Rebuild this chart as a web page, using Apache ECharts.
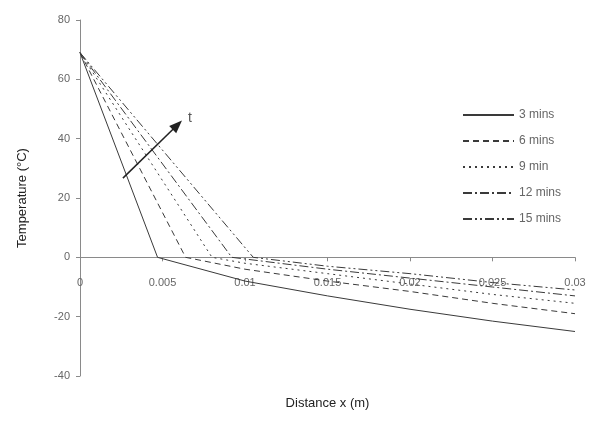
<!DOCTYPE html>
<html>
<head>
<meta charset="utf-8">
<script src="https://cdn.jsdelivr.net/npm/echarts@6/dist/echarts.min.js"></script>
<style>
html,body{margin:0;padding:0;background:#fff;}
#chart{width:599px;height:425px;}
</style>
</head>
<body>
<div id="chart"></div>
<script>
// Data
const seriesNames = ['3 mins', '6 mins', '9 min', '12 mins', '15 mins'];
const x3 = [0, 0.0047, 0.01, 0.015, 0.02, 0.025, 0.03];
const y3 = [69, 0, -8, -13, -17.5, -21.5, -25];
const x6 = [0, 0.0064, 0.01, 0.015, 0.02, 0.025, 0.03];
const y6 = [69, 0, -4, -8, -11.5, -15.5, -19];
const x9 = [0, 0.008, 0.01, 0.015, 0.02, 0.025, 0.03];
const y9 = [69, 0, -2, -5.5, -9, -12.5, -15.5];
const x12 = [0, 0.0092, 0.015, 0.02, 0.025, 0.03];
const y12 = [69, 0, -4, -7, -10, -13];
const x15 = [0, 0.0105, 0.015, 0.02, 0.025, 0.03];
const y15 = [69, 0, -3, -5.5, -8.5, -11];
const arrowStart = [0.0026, 26.7];
const arrowEnd = [0.0059, 44.6];
const arrowLabelAt = [0.00667, 47];
const xTicks = [0, 0.005, 0.01, 0.015, 0.02, 0.025, 0.03];
const yTicks = [-40, -20, 0, 20, 40, 60, 80];

const xs = [x3, x6, x9, x12, x15];
const ys = [y3, y6, y9, y12, y15];
const dashes = ['solid', [6, 4], [2, 4], [9, 3, 2, 3], [9, 3, 2, 3, 2, 3]];

const yMin = -40, yMax = 80;
const gridTop = 20, gridBottom = 49, chartH = 425;
const gridH = chartH - gridTop - gridBottom;
// move the x axis (line, ticks and labels) up to the y = 0 level
const xAxisOffset = -gridH * (0 - yMin) / (yMax - yMin);

const chart = echarts.init(document.getElementById('chart'));
const axisCol = '#8a8a8a';
const txtCol = '#666';
const font = 'Liberation Sans, Arial, sans-serif';

const series = seriesNames.map((n, i) => ({
  name: n,
  type: 'line',
  symbol: 'none',
  data: xs[i].map((x, j) => [x, ys[i][j]]),
  lineStyle: { color: '#3a3a3a', width: 1, type: dashes[i] },
  itemStyle: { color: '#3a3a3a' },
  silent: true
}));
series[0].markLine = {
  silent: true,
  symbol: ['none', 'triangle'],
  symbolSize: [10, 13],
  lineStyle: { color: '#222', width: 1.5, type: 'solid' },
  label: { show: false },
  data: [[{ coord: arrowStart }, { coord: arrowEnd }]]
};
series[0].markPoint = {
  silent: true,
  symbol: 'circle',
  symbolSize: 0,
  label: { show: true, position: 'inside', formatter: 't', color: '#555', fontSize: 14, fontFamily: font },
  data: [{ coord: arrowLabelAt }]
};

chart.setOption({
  animation: false,
  backgroundColor: '#fff',
  textStyle: { fontFamily: font },
  grid: { left: 80, right: 24, top: gridTop, bottom: gridBottom, containLabel: false, outerBoundsMode: 'none' },
  legend: {
    orient: 'vertical',
    left: 457,
    top: 104,
    itemWidth: 51,
    itemHeight: 10,
    itemGap: 14,
    itemStyle: { opacity: 0, borderWidth: 0 },
    textStyle: { color: txtCol, fontSize: 12, fontFamily: font },
    data: seriesNames
  },
  xAxis: {
    type: 'value',
    min: 0, max: 0.03, interval: 0.005,
    offset: xAxisOffset,
    name: 'Distance x (m)',
    nameLocation: 'middle',
    nameGap: 140,
    nameTextStyle: { color: '#222', fontSize: 13, fontFamily: font },
    axisLine: { show: true, onZero: false, lineStyle: { color: axisCol, width: 1 } },
    axisTick: { show: true, inside: false, length: 4, lineStyle: { color: axisCol } },
    axisLabel: { color: txtCol, fontSize: 11, fontFamily: font, margin: 20,
      formatter: v => { const s = xTicks.find(t => Math.abs(t - v) < 1e-9); return s === undefined ? '' : String(s); } },
    splitLine: { show: false }
  },
  yAxis: {
    type: 'value',
    min: yMin, max: yMax, interval: 20,
    name: 'Temperature (°C)',
    nameLocation: 'middle',
    nameGap: 51,
    nameRotate: 90,
    nameTextStyle: { color: '#222', fontSize: 13, fontFamily: font },
    axisLine: { show: true, onZero: false, lineStyle: { color: axisCol, width: 1 } },
    axisTick: { show: true, length: 4, lineStyle: { color: axisCol } },
    axisLabel: { color: txtCol, fontSize: 11, fontFamily: font, margin: 10,
      formatter: v => yTicks.includes(v) ? String(v) : '' },
    splitLine: { show: false }
  },
  series: series
});
</script>
</body>
</html>
